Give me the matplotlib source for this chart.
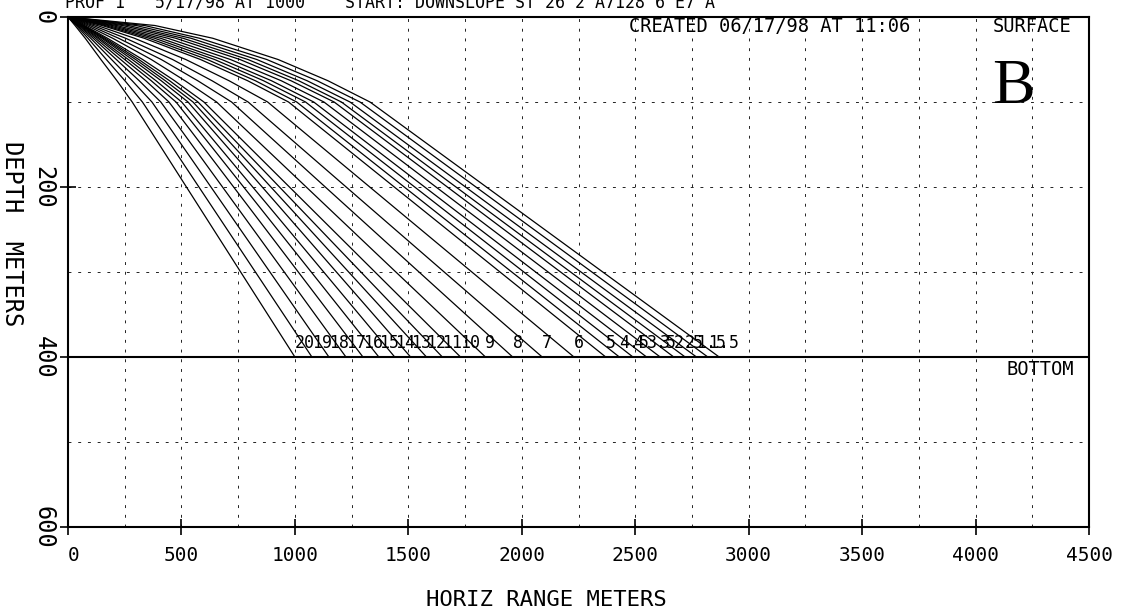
import matplotlib.pyplot as plt
from matplotlib.ticker import MultipleLocator

# ray fan: launch angle labels and the range (m) of each ray at a few depths
angles = ['20', '19', '18', '17', '16', '15', '14', '13', '12', '11', '10', '9', '8', '7', '6', '5',
          '4.5', '4', '3.5', '3', '2.5', '2', '1.5', '1', '.5']
range_10 = [31, 37, 42, 47, 51, 55, 59, 62, 66, 69, 73, 83, 96, 111, 129, 150,
            163, 178, 195, 214, 240, 266, 300, 337, 383]
range_25 = [76, 88, 100, 111, 121, 131, 139, 149, 156, 164, 174, 197, 223, 254, 293, 336,
            358, 382, 408, 440, 475, 507, 542, 580, 638]
range_50 = [145, 169, 192, 213, 232, 250, 266, 283, 298, 312, 329, 367, 411, 461, 519, 584,
            614, 646, 678, 716, 758, 793, 832, 876, 926]
range_75 = [216, 251, 283, 314, 343, 367, 388, 411, 429, 448, 470, 516, 572, 635, 710, 792,
            826, 862, 897, 940, 983, 1017, 1054, 1098, 1146]
range_100 = [283, 328, 370, 409, 445, 476, 501, 529, 551, 573, 599, 655, 721, 794, 880, 972,
             1008, 1047, 1083, 1128, 1173, 1205, 1243, 1287, 1331]
range_bottom = [1000, 1075, 1150, 1225, 1300, 1370, 1440, 1510, 1580, 1650, 1730, 1840, 1960,
                2090, 2230, 2370, 2430, 2490, 2550, 2610, 2670, 2720, 2770, 2820, 2870]
ray_depths = [0, 10, 25, 50, 75, 100, 400]

bottom_depth = 400
x_ticks = [0, 500, 1000, 1500, 2000, 2500, 3000, 3500, 4000, 4500]
y_ticks = [0, 200, 400, 600]

mono = 'DejaVu Sans Mono'

fig = plt.figure(figsize=(11.22, 6.14), dpi=100)
ax = fig.add_axes([0.0606, 0.1417, 0.91, 0.8306])

# rays
for i in range(len(angles)):
    xs = [0, range_10[i], range_25[i], range_50[i], range_75[i], range_100[i], range_bottom[i]]
    ax.plot(xs, ray_depths, color='black', lw=0.9)
    ax.text(range_bottom[i], bottom_depth - 6, angles[i], fontsize=12, family=mono,
            ha='left', va='bottom')

# sea floor
ax.axhline(bottom_depth, color='black', lw=1.5)

ax.set_xlim(0, 4500)
ax.set_ylim(600, 0)
ax.set_xticks(x_ticks)
ax.set_yticks(y_ticks)
ax.xaxis.set_minor_locator(MultipleLocator(250))
ax.yaxis.set_minor_locator(MultipleLocator(100))
ax.grid(which='both', color='#222222', lw=0.7, linestyle=(0, (3, 7)))
ax.tick_params(which='major', direction='inout', length=12, width=1.2)
ax.tick_params(which='minor', length=0)
ax.tick_params(axis='x', pad=8)
ax.tick_params(axis='y', pad=3)
for s in ax.spines.values():
    s.set_linewidth(1.5)

ax.set_xticklabels([str(v) for v in x_ticks], family=mono, fontsize=14)
ax.get_xticklabels()[0].set_ha('left')
ax.set_yticklabels([str(v) for v in y_ticks], family=mono, fontsize=17, rotation=270, va='center')

ax.text(2110, -0.143, 'HORIZ RANGE METERS', transform=ax.get_xaxis_transform(), family=mono,
        fontsize=16, ha='center', va='center')
ax.text(-0.055, 255, 'DEPTH  METERS', transform=ax.get_yaxis_transform(), family=mono,
        fontsize=17, rotation=270, ha='center', va='center')

fig.text(0.561, 0.972, 'CREATED 06/17/98 AT 11:06', family=mono, fontsize=13.5,
         ha='left', va='top')
fig.text(0.955, 0.972, 'SURFACE', family=mono, fontsize=13.5, ha='right', va='top')
ax.text(0.985, 403, 'BOTTOM', transform=ax.get_yaxis_transform(), family=mono, fontsize=13.5,
        ha='right', va='top')
ax.text(0.9255, 0.86, 'B', transform=ax.transAxes, family='Liberation Serif', fontsize=46,
        ha='center', va='center')

# title is cut off by the top of the page
fig.text(0.058, 0.988, 'PROF 1   5/17/98 AT 1000    START: DOWNSLOPE ST 26 2 A7128 6 E7 A',
         family=mono, fontsize=12, ha='left', va='baseline')

fig.savefig('out.png', dpi=100)
